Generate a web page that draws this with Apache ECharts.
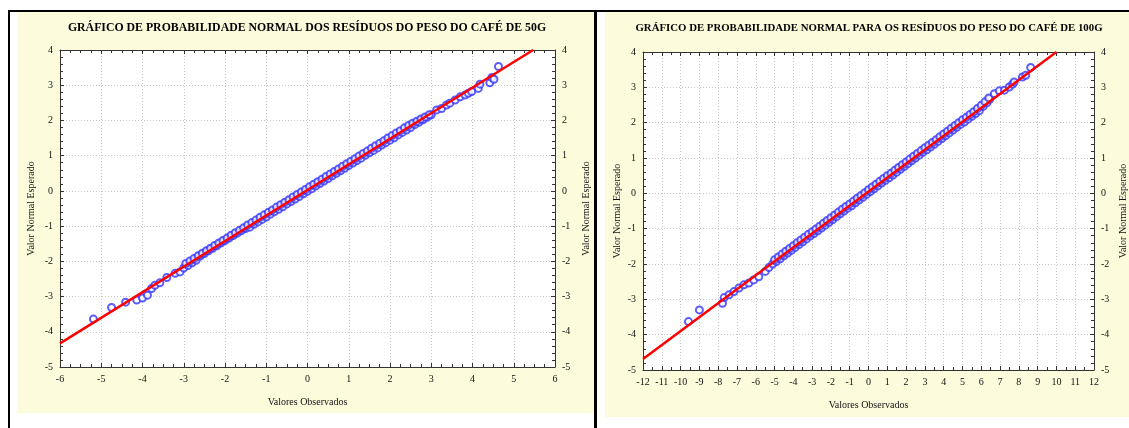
<!DOCTYPE html>
<html>
<head>
<meta charset="utf-8">
<title>Probabilidade normal dos resíduos</title>
<script src="https://cdn.jsdelivr.net/npm/echarts@6/dist/echarts.min.js"></script>
<style>
  html, body { margin: 0; padding: 0; background: #fff; }
  #wrap { position: relative; width: 1129px; height: 428px; overflow: hidden; }
  .frame { position: absolute; background: #000; }
  .cream { position: absolute; background: #fcfcdc; }
  #chart { position: absolute; left: 0; top: 0; width: 1129px; height: 428px; }
</style>
</head>
<body>
<div id="wrap">
  <div class="frame" style="left:8px;top:10px;width:1121px;height:2px"></div>
  <div class="frame" style="left:8px;top:10px;width:2px;height:418px"></div>
  <div class="frame" style="left:594px;top:10px;width:3px;height:418px"></div>
  <div class="cream" style="left:18px;top:12px;width:576px;height:401px"></div>
  <div class="cream" style="left:605px;top:12px;width:524px;height:405px"></div>
  <div id="chart"></div>
</div>
<script>
// títulos
const title50 = 'GRÁFICO DE PROBABILIDADE NORMAL DOS RESÍDUOS DO PESO DO CAFÉ DE 50G'
const title100 = 'GRÁFICO DE PROBABILIDADE NORMAL PARA OS RESÍDUOS DO PESO DO CAFÉ DE 100G'
const xName = 'Valores Observados'
const yName = 'Valor Normal Esperado'

// eixos
const xRange50 = [-6, 6]
const xRange100 = [-12, 12]
const yRange = [-5, 4]

// café 50g: [observado, normal esperado]
const pts50Low = [
  [-5.19, -3.64], [-4.75, -3.31], [-4.41, -3.16], [-4.14, -3.10], [-4.00, -3.04],
  [-3.88, -2.96], [-3.78, -2.77], [-3.70, -2.68], [-3.58, -2.61], [-3.41, -2.46],
  [-3.21, -2.34], [-3.09, -2.30]
]
const pts50BandA = [
  [-3.0, -2.19], [-2.9, -2.12], [-2.8, -2.04], [-2.7, -1.97], [-2.6, -1.85],
  [-2.5, -1.78], [-2.4, -1.70], [-2.3, -1.63], [-2.2, -1.56], [-2.1, -1.48],
  [-2.0, -1.41], [-1.9, -1.34], [-1.8, -1.27], [-1.7, -1.20], [-1.6, -1.13],
  [-1.5, -1.07], [-1.4, -1.03], [-1.3, -0.95], [-1.2, -0.88], [-1.1, -0.81],
  [-1.0, -0.74], [-0.9, -0.66], [-0.8, -0.59], [-0.7, -0.52], [-0.6, -0.45],
  [-0.5, -0.37], [-0.4, -0.30], [-0.3, -0.23], [-0.2, -0.16], [-0.1, -0.08],
  [0.0, -0.01], [0.1, 0.06], [0.2, 0.14], [0.3, 0.21], [0.4, 0.28],
  [0.5, 0.35], [0.6, 0.43], [0.7, 0.50], [0.8, 0.57], [0.9, 0.64],
  [1.0, 0.72], [1.1, 0.79], [1.2, 0.86], [1.3, 0.93], [1.4, 1.01],
  [1.5, 1.08], [1.6, 1.15], [1.7, 1.22], [1.8, 1.30], [1.9, 1.37],
  [2.0, 1.44], [2.1, 1.51], [2.2, 1.59], [2.3, 1.66], [2.4, 1.73],
  [2.5, 1.80], [2.6, 1.88], [2.7, 1.95], [2.8, 2.02], [2.9, 2.09],
  [3.0, 2.16]
]
const pts50BandB = [
  [-2.95, -2.06], [-2.85, -1.99], [-2.75, -1.92], [-2.65, -1.84], [-2.55, -1.77],
  [-2.45, -1.70], [-2.35, -1.63], [-2.25, -1.55], [-2.15, -1.48], [-2.05, -1.41],
  [-1.95, -1.34], [-1.85, -1.26], [-1.75, -1.19], [-1.65, -1.12], [-1.55, -1.05],
  [-1.45, -0.97], [-1.35, -0.90], [-1.25, -0.83], [-1.15, -0.75], [-1.05, -0.68],
  [-0.95, -0.61], [-0.85, -0.54], [-0.75, -0.46], [-0.65, -0.39], [-0.55, -0.32],
  [-0.45, -0.25], [-0.35, -0.17], [-0.25, -0.10], [-0.15, -0.03], [-0.05, 0.04],
  [0.05, 0.12], [0.15, 0.19], [0.25, 0.26], [0.35, 0.33], [0.45, 0.41],
  [0.55, 0.48], [0.65, 0.55], [0.75, 0.62], [0.85, 0.70], [0.95, 0.77],
  [1.05, 0.84], [1.15, 0.91], [1.25, 0.99], [1.35, 1.06], [1.45, 1.13],
  [1.55, 1.21], [1.65, 1.28], [1.75, 1.35], [1.85, 1.42], [1.95, 1.50],
  [2.05, 1.57], [2.15, 1.64], [2.25, 1.71], [2.35, 1.79], [2.45, 1.86],
  [2.55, 1.92], [2.65, 1.98], [2.75, 2.04], [2.85, 2.10], [2.95, 2.16]
]
const pts50High = [
  [3.13, 2.30], [3.25, 2.34], [3.37, 2.44], [3.45, 2.49], [3.58, 2.58],
  [3.70, 2.67], [3.82, 2.72], [3.90, 2.77], [3.98, 2.82], [4.14, 2.91],
  [4.18, 3.03], [4.42, 3.07], [4.47, 3.22], [4.52, 3.17], [4.63, 3.53]
]
const line50 = [[-6, -4.33], [5.47, 4.0]]

// café 100g
const pts100Low = [
  [-9.58, -3.63], [-9.00, -3.30], [-7.77, -3.11], [-7.68, -2.95], [-7.42, -2.87],
  [-7.16, -2.78], [-6.89, -2.68], [-6.63, -2.59], [-6.37, -2.54], [-6.11, -2.45],
  [-5.84, -2.36], [-5.49, -2.21], [-5.30, -2.10]
]
const pts100BandA = [
  [-5.1, -2.00], [-4.9, -1.93], [-4.7, -1.85], [-4.5, -1.77], [-4.3, -1.69],
  [-4.1, -1.61], [-3.9, -1.53], [-3.7, -1.45], [-3.5, -1.37], [-3.3, -1.29],
  [-3.1, -1.21], [-2.9, -1.14], [-2.7, -1.06], [-2.5, -0.98], [-2.3, -0.90],
  [-2.1, -0.82], [-1.9, -0.74], [-1.7, -0.66], [-1.5, -0.58], [-1.3, -0.50],
  [-1.1, -0.42], [-0.9, -0.35], [-0.7, -0.27], [-0.5, -0.19], [-0.3, -0.11],
  [-0.1, -0.03], [0.1, 0.05], [0.3, 0.13], [0.5, 0.21], [0.7, 0.29],
  [0.9, 0.37], [1.1, 0.44], [1.3, 0.52], [1.5, 0.60], [1.7, 0.68],
  [1.9, 0.76], [2.1, 0.84], [2.3, 0.92], [2.5, 1.00], [2.7, 1.08],
  [2.9, 1.16], [3.1, 1.23], [3.3, 1.31], [3.5, 1.39], [3.7, 1.47],
  [3.9, 1.55], [4.1, 1.63], [4.3, 1.71], [4.5, 1.79], [4.7, 1.87],
  [4.9, 1.95], [5.1, 2.02], [5.3, 2.10], [5.5, 2.18], [5.7, 2.26],
  [5.9, 2.34], [6.1, 2.46], [6.3, 2.56], [6.45, 2.66]
]
const pts100BandB = [
  [-5.0, -1.88], [-4.8, -1.80], [-4.6, -1.72], [-4.4, -1.64], [-4.2, -1.56],
  [-4.0, -1.48], [-3.8, -1.40], [-3.6, -1.32], [-3.4, -1.24], [-3.2, -1.16],
  [-3.0, -1.09], [-2.8, -1.01], [-2.6, -0.93], [-2.4, -0.85], [-2.2, -0.77],
  [-2.0, -0.69], [-1.8, -0.61], [-1.6, -0.53], [-1.4, -0.45], [-1.2, -0.37],
  [-1.0, -0.30], [-0.8, -0.22], [-0.6, -0.14], [-0.4, -0.06], [-0.2, 0.02],
  [0.0, 0.10], [0.2, 0.18], [0.4, 0.26], [0.6, 0.34], [0.8, 0.42],
  [1.0, 0.50], [1.2, 0.57], [1.4, 0.65], [1.6, 0.73], [1.8, 0.81],
  [2.0, 0.89], [2.2, 0.97], [2.4, 1.05], [2.6, 1.13], [2.8, 1.21],
  [3.0, 1.29], [3.2, 1.36], [3.4, 1.44], [3.6, 1.52], [3.8, 1.60],
  [4.0, 1.68], [4.2, 1.76], [4.4, 1.84], [4.6, 1.92], [4.8, 2.00],
  [5.0, 2.08], [5.2, 2.15], [5.4, 2.23], [5.6, 2.31], [5.8, 2.40],
  [6.0, 2.49], [6.2, 2.59], [6.4, 2.70]
]
const pts100High = [
  [6.70, 2.82], [6.96, 2.90], [7.23, 2.92], [7.49, 3.01], [7.67, 3.09],
  [7.75, 3.15], [8.19, 3.29], [8.37, 3.34], [8.63, 3.56]
]
const line100 = [[-12, -4.69], [10.0, 4.0]]

const serif = '"Liberation Serif", "DejaVu Serif", serif'
const axisColor = '#333'

const chart = echarts.init(document.getElementById('chart'))

// eixo x (inferior com rótulos, superior só com marcas)
const makeX = (gridIndex, range, minorSplit, bottom) => ({
  type: 'value',
  gridIndex,
  position: bottom ? 'bottom' : 'top',
  min: range[0],
  max: range[1],
  interval: 1,
  name: bottom ? xName : '',
  nameLocation: 'middle',
  nameGap: 30,
  nameTextStyle: { fontFamily: serif, fontSize: 10, color: '#111' },
  axisLine: { show: true, onZero: false, lineStyle: { color: axisColor, width: 1 } },
  axisTick: { show: true, inside: true, length: 4, lineStyle: { color: axisColor } },
  minorTick: { show: true, splitNumber: minorSplit, length: 3, lineStyle: { color: axisColor } },
  axisLabel: { show: bottom, fontFamily: serif, fontSize: 10, color: '#111', margin: 7 },
  splitLine: bottom ? { show: true, lineStyle: { color: '#c8c8c8', type: [1, 2] } } : { show: false }
})

const makeY = (gridIndex, left, gap) => ({
  type: 'value',
  gridIndex,
  position: left ? 'left' : 'right',
  min: yRange[0],
  max: yRange[1],
  interval: 1,
  name: yName,
  nameLocation: 'middle',
  nameRotate: 90,
  nameGap: gap,
  nameTextStyle: { fontFamily: serif, fontSize: 10, color: '#111' },
  axisLine: { show: true, onZero: false, lineStyle: { color: axisColor, width: 1 } },
  axisTick: { show: true, inside: true, length: 4, lineStyle: { color: axisColor } },
  minorTick: { show: true, splitNumber: 5, length: 3, lineStyle: { color: axisColor } },
  axisLabel: { fontFamily: serif, fontSize: 10, color: '#111', margin: 7 },
  splitLine: left ? { show: true, lineStyle: { color: '#c8c8c8', type: [1, 2] } } : { show: false }
})

const dots = (xAxisIndex, yAxisIndex, data) => ({
  type: 'scatter',
  xAxisIndex,
  yAxisIndex,
  data,
  symbol: 'emptyCircle',
  symbolSize: 7,
  itemStyle: { color: '#3434ff', borderWidth: 1 },
  z: 2
})

const fit = (xAxisIndex, yAxisIndex, data) => ({
  type: 'line',
  xAxisIndex,
  yAxisIndex,
  data,
  showSymbol: false,
  lineStyle: { color: '#ff0000', width: 2.5 },
  z: 5
})

const option = {
  animation: false,
  graphic: [
    { type: 'text', x: 307, y: 28, style: { text: title50, align: 'center', verticalAlign: 'middle', font: 'bold 11.8px ' + serif, fill: '#000' } },
    { type: 'text', x: 869, y: 28, style: { text: title100, align: 'center', verticalAlign: 'middle', font: 'bold 10.8px ' + serif, fill: '#000' } }
  ],
  grid: [
    { left: 60, top: 50, width: 495, height: 317, show: true, backgroundColor: '#fff', borderWidth: 0 },
    { left: 643, top: 52, width: 456, height: 318, show: true, backgroundColor: '#fff', borderWidth: 0 }
  ],
  xAxis: [
    makeX(0, xRange50, 4, true),
    makeX(0, xRange50, 4, false),
    makeX(1, xRange100, 2, true),
    makeX(1, xRange100, 2, false)
  ],
  yAxis: [
    makeY(0, true, 24),
    makeY(0, false, 26),
    makeY(1, true, 21),
    makeY(1, false, 24)
  ],
  series: [
    dots(0, 0, pts50Low),
    dots(0, 0, pts50BandA),
    dots(0, 0, pts50BandB),
    dots(0, 0, pts50High),
    fit(0, 0, line50),
    dots(2, 2, pts100Low),
    dots(2, 2, pts100BandA),
    dots(2, 2, pts100BandB),
    dots(2, 2, pts100High),
    fit(2, 2, line100)
  ]
}

chart.setOption(option)
</script>
</body>
</html>
